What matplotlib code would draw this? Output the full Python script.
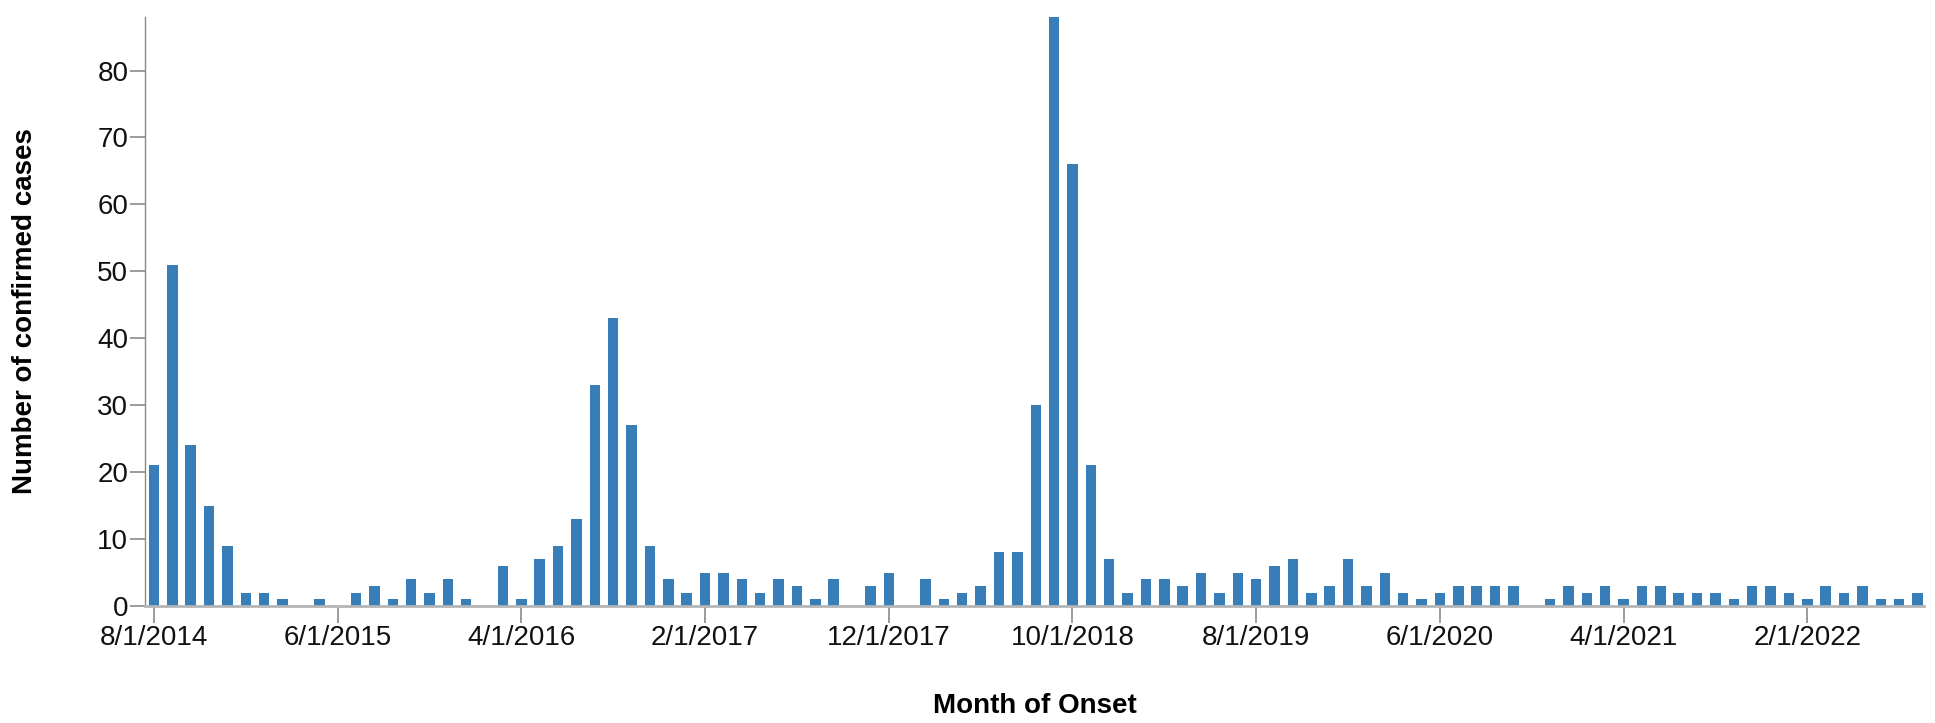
import matplotlib
matplotlib.use("Agg")
import matplotlib.pyplot as plt
import numpy as np
import pandas as pd

plt.rcParams['font.family'] = ['Liberation Sans', 'DejaVu Sans']

# monthly confirmed cases, Aug 2014 .. Aug 2022
months = pd.date_range("2014-08-01", "2022-08-01", freq="MS")
cases = [
    21, 51, 24, 15, 9,                                  # 2014 Aug-Dec
    2, 2, 1, 0, 1, 0, 2, 3, 1, 4, 2, 4,                 # 2015
    1, 0, 6, 1, 7, 9, 13, 33, 43, 27, 9, 4,             # 2016
    2, 5, 5, 4, 2, 4, 3, 1, 4, 0, 3, 5,                 # 2017
    0, 4, 1, 2, 3, 8, 8, 30, 88, 66, 21, 7,             # 2018
    2, 4, 4, 3, 5, 2, 5, 4, 6, 7, 2, 3,                 # 2019
    7, 3, 5, 2, 1, 2, 3, 3, 3, 3, 0, 1,                 # 2020
    3, 2, 3, 1, 3, 3, 2, 2, 2, 1, 3, 3,                 # 2021
    2, 1, 3, 2, 3, 1, 1, 2,                             # 2022 Jan-Aug
]
tick_labels = ["8/1/2014", "6/1/2015", "4/1/2016", "2/1/2017", "12/1/2017",
               "10/1/2018", "8/1/2019", "6/1/2020", "4/1/2021", "2/1/2022"]
y_ticks = [0, 10, 20, 30, 40, 50, 60, 70, 80]

bar_color = "#377eb8"
axis_grey = "#8a8a8a"

fig = plt.figure(figsize=(19.35, 7.23), dpi=100)
ax = fig.add_axes([0.0749, 0.1618, 0.9194, 0.8147])

x = np.arange(len(months))
ax.bar(x, cases, width=0.57, color=bar_color, zorder=2)

ax.set_xlim(-0.49, len(months) - 0.65)
ax.set_ylim(0, 88)

ax.set_xticks(x[::10])
ax.set_xticklabels(tick_labels)
ax.set_yticks(y_ticks)

for side in ["top", "right"]:
    ax.spines[side].set_visible(False)
ax.spines["left"].set_color(axis_grey)
ax.spines["left"].set_linewidth(1.0)
ax.spines["bottom"].set_color("#b5b5b5")
ax.spines["bottom"].set_linewidth(2.0)

ax.tick_params(axis="x", length=12, width=1.2, color=axis_grey, pad=1.5,
               labelsize=20, labelcolor="#111111")
ax.tick_params(axis="y", length=10.5, width=1.2, color=axis_grey, pad=1.5,
               labelsize=20, labelcolor="#111111")

fig.text(0.0129, 0.57, "Number of confirmed cases", rotation=90,
         ha="center", va="center", fontsize=20, fontweight="bold")
fig.text(0.5346, 0.0235, "Month of Onset", ha="center", va="center",
         fontsize=20, fontweight="bold")

fig.savefig("out.png", dpi=100)
